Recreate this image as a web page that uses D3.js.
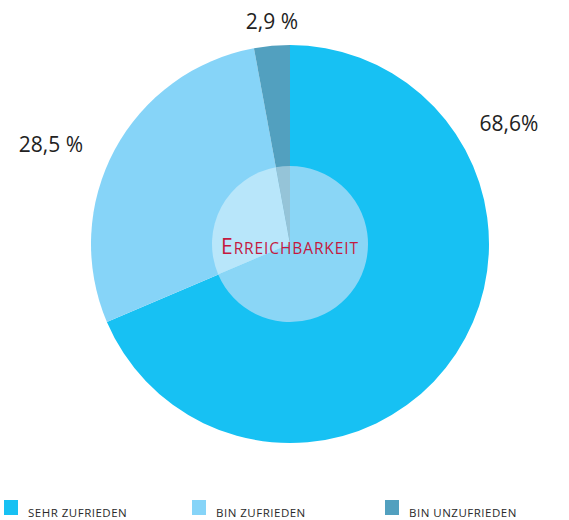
<!DOCTYPE html>
<html><head><meta charset="utf-8">
<script src="https://cdn.jsdelivr.net/npm/d3@7"></script>
<style>body{margin:0;background:#fff}svg{display:block}</style>
</head><body>
<script>
const categories = ["SEHR ZUFRIEDEN", "BIN ZUFRIEDEN", "BIN UNZUFRIEDEN"];
const values = [68.6, 28.5, 2.9];
const valueLabels = ["68,6%", "28,5 %", "2,9 %"];
const colors = ["#17c1f3", "#86d4f8", "#52a0bf"];
const innerColors = ["#8ad6f6", "#b8e6fa", "#95c4d8"];
const centerTitle = "Erreichbarkeit";

const W = 569, H = 520;
const svg = d3.select("body").append("svg").attr("width", W).attr("height", H);
const cx = 290, cy = 244, R = 199, r0 = 78;

const pie = d3.pie().sort(null).value(d => d)(values);
const arc = d3.arc().innerRadius(0).outerRadius(R);
const arcIn = d3.arc().innerRadius(0).outerRadius(r0);
const g = svg.append("g").attr("transform", `translate(${cx},${cy})`);
g.selectAll("path.out").data(pie).join("path").attr("class", "out")
  .attr("d", arc).attr("fill", (d, i) => colors[i]);
g.selectAll("path.in").data(pie).join("path").attr("class", "in")
  .attr("d", arcIn).attr("fill", (d, i) => innerColors[i]);

const t = g.append("text").attr("text-anchor", "middle").attr("y", 10)
  .attr("font-family", "Open Sans, sans-serif").attr("fill", "#c41a3f")
  .attr("letter-spacing", 0.9);
t.append("tspan").attr("font-size", 21).text(centerTitle[0].toUpperCase());
t.append("tspan").attr("font-size", 15.5).text(centerTitle.slice(1).toUpperCase());

// value labels placed outside
const labelPos = [[509, 131], [51, 152], [272, 29]];
svg.selectAll("text.val").data(valueLabels).join("text").attr("class", "val")
  .attr("x", (d, i) => labelPos[i][0]).attr("y", (d, i) => labelPos[i][1])
  .attr("text-anchor", "middle")
  .attr("font-family", "Open Sans, sans-serif").attr("font-size", 21)
  .attr("fill", "#222").text(d => d);

// legend
const legX = [4, 192, 385];
const lg = svg.selectAll("g.leg").data(categories).join("g").attr("class", "leg")
  .attr("transform", (d, i) => `translate(${legX[i]},500)`);
lg.append("rect").attr("width", 14).attr("height", 15).attr("fill", (d, i) => colors[i]);
lg.append("text").attr("x", 24).attr("y", 17)
  .attr("font-family", "Open Sans, sans-serif").attr("font-size", 11.5)
  .attr("letter-spacing", 0.5).attr("fill", "#2a2a2a").text(d => d);
</script>
</body></html>
